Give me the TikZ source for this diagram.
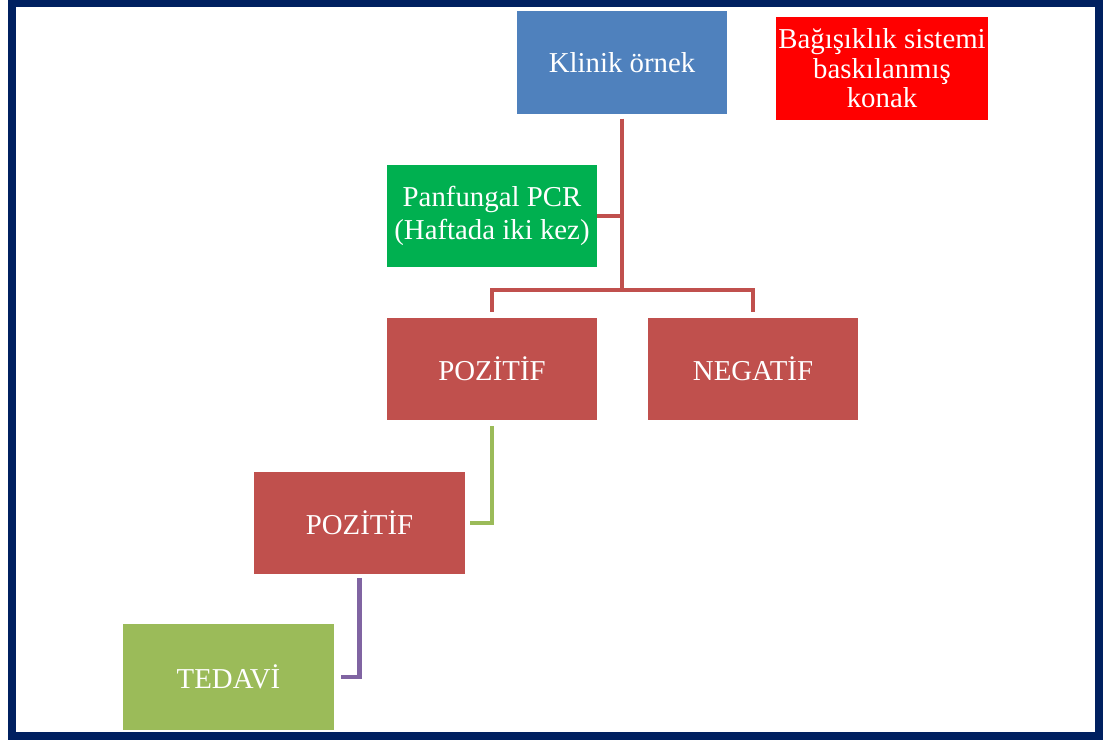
\documentclass[tikz,border=0pt]{standalone}
\usepackage{fontspec}
\setmainfont{Liberation Serif}
\usepackage{tikz}
\usetikzlibrary{calc}

\definecolor{frameblue}{HTML}{002060}
\definecolor{boxblue}{HTML}{4F81BD}
\definecolor{boxred}{HTML}{C0504D}
\definecolor{boxgreen}{HTML}{00B050}
\definecolor{boxolive}{HTML}{9BBB59}
\definecolor{linepurple}{HTML}{8064A2}

\tikzset{
	box/.style={rectangle, inner sep=0pt, minimum width=5.25cm, minimum height=2.55cm, align=center, text=white, font=\fontsize{20.5}{24}\selectfont},
	link/.style={line width=0.12cm}
}

\begin{document}
\begin{tikzpicture}[x=0.025cm, y=-0.025cm]
		\useasboundingbox (0,0) rectangle (1115,740);
		\fill[white] (0,0) rectangle (1115,740);
		
		\node[box, fill=boxblue] (KO) at (622,62.5){Klinik örnek};
		\node[box, fill=red, minimum width=5.3cm, font=\fontsize{20.5}{21}\selectfont] (BS) at (882,68.5){Bağışıklık sistemi\\baskılanmış\\konak};
		\node[box, fill=boxgreen] (PCR) at (492,216){Panfungal PCR\\(Haftada iki kez)};
		\node[box, fill=boxred] (POZ1) at (492,369){POZİTİF};
		\node[box, fill=boxred] (NEG) at (753,369){NEGATİF};
		\node[box, fill=boxred] (POZ2) at (359.5,523){POZİTİF};
		\node[box, fill=boxolive, minimum height=2.65cm] (TED) at (228.5,677){TEDAVİ};
		
		\coordinate (split) at (622,290);
		
		\draw[link, boxred] ([yshift=-0.12cm]KO.south) -- (split);
		\draw[link, boxred] (PCR.east) -- (PCR.east -| split);
		\draw[link, boxred] ([yshift=0.15cm]POZ1.north) |- (split);
		\draw[link, boxred] ([yshift=0.15cm]NEG.north) |- (split);
		\draw[link, boxolive] ([yshift=-0.15cm]POZ1.south) |- ([xshift=0.12cm]POZ2.east);
		\draw[link, linepurple] ([yshift=-0.1cm]POZ2.south) |- ([xshift=0.18cm]TED.east);
		
		\draw[frameblue, line width=0.2cm] (12,3) rectangle (1099,735.5);
	\end{tikzpicture}
\end{document}
